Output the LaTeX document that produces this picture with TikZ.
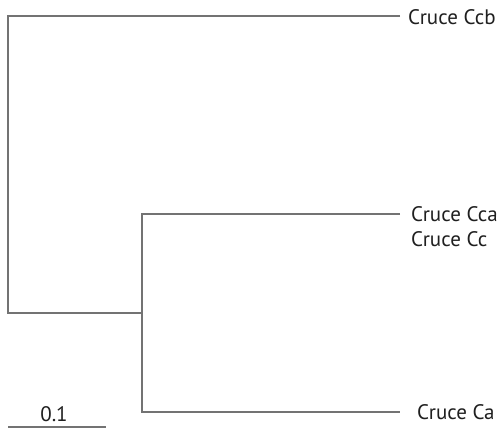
\documentclass[tikz,border=0pt]{standalone}
\usepackage{fontspec}
\setmainfont{PT Sans}
\begin{document}
\begin{tikzpicture}[x=1pt,y=-1pt,
  branch/.style={draw=black!55,line width=1.3pt},
  leaf/.style={anchor=base west,inner sep=0pt,font=\fontsize{21}{23}\selectfont,text=black!88}]
\useasboundingbox (0,0) rectangle (498,429);
\coordinate (root) at (8,313);
\coordinate (top) at (8,16);
\coordinate (inner) at (142,313);
\coordinate (itop) at (142,214);
\coordinate (ibot) at (142,412);
\coordinate (eccb) at (400,16);
\coordinate (ecca) at (400,214);
\coordinate (eca) at (400,412);
\node[leaf] (ccb) at (408,24) {Cruce Ccb};
\node[leaf] (cca) at (411,221) {Cruce Cca};
\node[leaf] (cc) at (411,246) {Cruce Cc};
\node[leaf] (ca) at (417,419) {Cruce Ca};
\draw[branch] (eccb) -- (top) -- (root) -- (inner);
\draw[branch] (ecca) -- (itop) -- (ibot) -- (eca);
\coordinate (s1) at (8,427);
\coordinate (s2) at (106,427);
\draw[branch,line width=1.1pt] (s1) -- (s2);
\node[leaf,anchor=base] (scale) at (54,421) {0.1};
\end{tikzpicture}
\end{document}
